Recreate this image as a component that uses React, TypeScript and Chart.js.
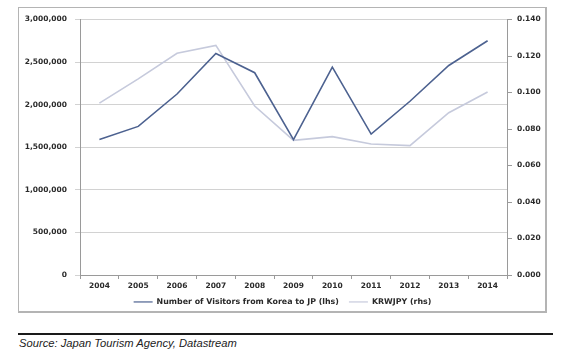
import React, { useEffect, useRef } from "react";
import { Chart, registerables } from "chart.js";

Chart.register(...registerables);

const years = ["2004", "2005", "2006", "2007", "2008", "2009", "2010", "2011", "2012", "2013", "2014"];
const visitors = [1590000, 1745000, 2125000, 2600000, 2375000, 1590000, 2440000, 1655000, 2040000, 2460000, 2750000];
const krwjpy = [0.0942, 0.1075, 0.1215, 0.1258, 0.0926, 0.0738, 0.0758, 0.0718, 0.0709, 0.0889, 0.1003];
const visitorsLabel = "Number of Visitors from Korea to JP (lhs)";
const krwLabel = "KRWJPY (rhs)";
const sourceText = "Source: Japan Tourism Agency, Datastream";

const tickFont = { family: "'DejaVu Sans', Verdana, sans-serif", size: 7.5, weight: "bold" as const };
const legendFont = { family: "'DejaVu Sans', Verdana, sans-serif", size: 7.9, weight: "bold" as const };
const textColor = "#2a2a2a";
const axisColor = "#9a9a9a";

export default function App() {
  const ref = useRef<HTMLCanvasElement | null>(null);

  useEffect(() => {
    if (!ref.current) return;
    const chart = new Chart(ref.current, {
      type: "line",
      data: {
        labels: years,
        datasets: [
          {
            label: visitorsLabel,
            data: visitors,
            yAxisID: "y",
            borderColor: "#4d6290",
            backgroundColor: "#4d6290",
            borderWidth: 1.6,
            pointRadius: 0,
            tension: 0,
          },
          {
            label: krwLabel,
            data: krwjpy,
            yAxisID: "y1",
            borderColor: "#c6cadc",
            backgroundColor: "#c6cadc",
            borderWidth: 1.6,
            pointRadius: 0,
            tension: 0,
          },
        ],
      },
      options: {
        responsive: false,
        animation: false,
        layout: { padding: { top: 8, left: 0, right: 0, bottom: 0 } },
        plugins: {
          tooltip: { enabled: false },
          legend: {
            position: "bottom",
            maxHeight: 25,
            labels: {
              boxWidth: 19,
              boxHeight: 1.2,
              padding: 10,
              color: textColor,
              font: legendFont,
              generateLabels: (c: any) => {
                const items = Chart.defaults.plugins.legend.labels.generateLabels(c);
                return items.map((it: any) => ({ ...it, lineWidth: 0 }));
              },
            },
          },
        },
        scales: {
          x: {
            type: "category",
            offset: true,
            grid: {
              offset: true,
              drawOnChartArea: false,
              drawTicks: true,
              tickLength: 4,
              color: axisColor,
            },
            border: { color: axisColor },
            ticks: { color: textColor, font: tickFont, padding: 3, maxRotation: 0 },
            afterFit: (s: any) => {
              s.height = 13;
            },
          },
          y: {
            position: "left",
            min: 0,
            max: 3000000,
            grid: { color: "#d2d2d2", tickLength: 5, drawTicks: true },
            border: { color: axisColor },
            ticks: {
              stepSize: 500000,
              color: textColor,
              font: tickFont,
              padding: 8,
              callback: (v: any) => Number(v).toLocaleString("en-US"),
            },
            afterFit: (s: any) => {
              s.width = 62;
            },
          },
          y1: {
            position: "right",
            min: 0,
            max: 0.14,
            grid: { drawOnChartArea: false, tickLength: 5, color: axisColor },
            border: { color: axisColor },
            ticks: {
              stepSize: 0.02,
              color: textColor,
              font: tickFont,
              padding: 5,
              callback: (v: any) => Number(v).toFixed(3),
            },
            afterFit: (s: any) => {
              s.width = 40;
            },
          },
        },
      },
    });
    return () => chart.destroy();
  }, []);

  return (
    <div>
      <div
        style={{
          position: "absolute",
          left: 18,
          top: 7,
          width: 529,
          height: 306,
          boxSizing: "border-box",
          borderTop: "1px solid #b4b4b4",
          borderLeft: "1px solid #b4b4b4",
          borderRight: "2px solid #b4b4b4",
          borderBottom: "2px solid #b4b4b4",
          background: "#fff",
        }}
      />
      <canvas
        ref={ref}
        width={529}
        height={306}
        style={{ position: "absolute", left: 18, top: 7, width: 529, height: 306 }}
      />
      <div
        style={{
          position: "absolute",
          left: 18,
          top: 333,
          width: 535,
          height: 2,
          background: "#1a1a1a",
        }}
      />
      <div
        style={{
          position: "absolute",
          left: 19,
          top: 336,
          fontFamily: "'Liberation Sans', Arial, sans-serif",
          fontStyle: "italic",
          fontSize: 11.2,
          lineHeight: "14px",
          color: "#222",
          whiteSpace: "nowrap",
        }}
      >
        {sourceText}
      </div>
    </div>
  );
}
